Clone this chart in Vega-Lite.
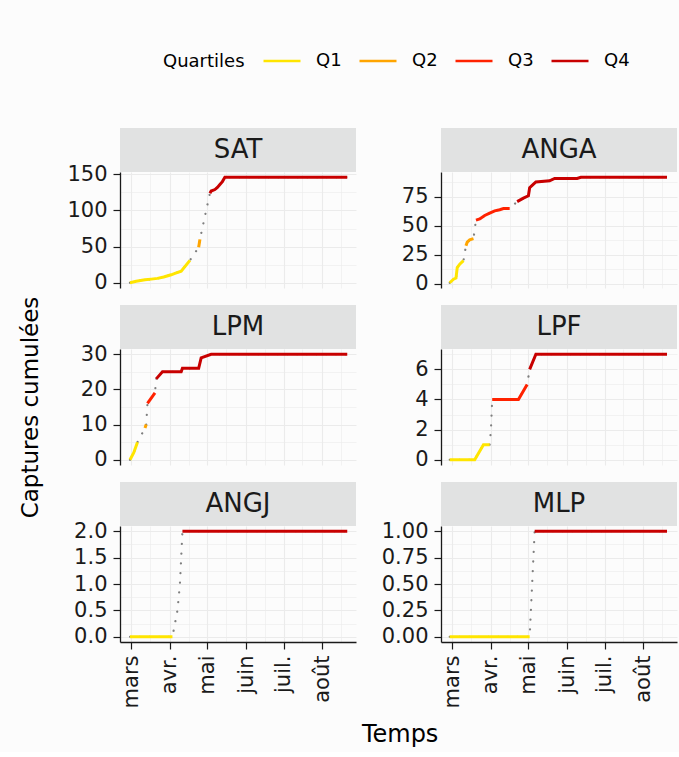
{
  "$schema": "https://vega.github.io/schema/vega-lite/v6.json",
  "background": "#fcfcfc",
  "padding": {"left": 19, "top": 41, "right": 2, "bottom": 5},
  "title": {"text": "Temps", "orient": "bottom", "anchor": "middle", "frame": "bounds", "dx": 52, "fontSize": 24, "font": "DejaVu Sans", "fontWeight": "normal", "color": "#000000", "offset": 15},
  "data": {"values": [
    {"site": "SAT", "date": "2021-02-28", "n": 0, "q": "Q1"},
    {"site": "SAT", "date": "2021-03-05", "n": 2, "q": "Q1"},
    {"site": "SAT", "date": "2021-03-12", "n": 4, "q": "Q1"},
    {"site": "SAT", "date": "2021-03-17", "n": 5, "q": "Q1"},
    {"site": "SAT", "date": "2021-03-22", "n": 6, "q": "Q1"},
    {"site": "SAT", "date": "2021-03-27", "n": 8, "q": "Q1"},
    {"site": "SAT", "date": "2021-04-02", "n": 11, "q": "Q1"},
    {"site": "SAT", "date": "2021-04-05", "n": 13, "q": "Q1"},
    {"site": "SAT", "date": "2021-04-10", "n": 16, "q": "Q1"},
    {"site": "SAT", "date": "2021-04-17", "n": 31, "q": "Q1"},
    {"site": "SAT", "date": "2021-04-24", "n": 49, "q": "Q2"},
    {"site": "SAT", "date": "2021-04-25", "n": 60, "q": "Q2"},
    {"site": "SAT", "date": "2021-04-29", "n": 92, "q": "Q3"},
    {"site": "SAT", "date": "2021-05-03", "n": 124, "q": "Q4"},
    {"site": "SAT", "date": "2021-05-04", "n": 127, "q": "Q4"},
    {"site": "SAT", "date": "2021-05-07", "n": 129, "q": "Q4"},
    {"site": "SAT", "date": "2021-05-09", "n": 132, "q": "Q4"},
    {"site": "SAT", "date": "2021-05-11", "n": 136, "q": "Q4"},
    {"site": "SAT", "date": "2021-05-13", "n": 140, "q": "Q4"},
    {"site": "SAT", "date": "2021-05-15", "n": 146, "q": "Q4"},
    {"site": "SAT", "date": "2021-08-21", "n": 146, "q": "Q4"},
    {"site": "ANGA", "date": "2021-02-27", "n": 1, "q": "Q1"},
    {"site": "ANGA", "date": "2021-03-02", "n": 4, "q": "Q1"},
    {"site": "ANGA", "date": "2021-03-04", "n": 5, "q": "Q1"},
    {"site": "ANGA", "date": "2021-03-05", "n": 14, "q": "Q1"},
    {"site": "ANGA", "date": "2021-03-07", "n": 17, "q": "Q1"},
    {"site": "ANGA", "date": "2021-03-10", "n": 20, "q": "Q1"},
    {"site": "ANGA", "date": "2021-03-12", "n": 33, "q": "Q2"},
    {"site": "ANGA", "date": "2021-03-13", "n": 36, "q": "Q2"},
    {"site": "ANGA", "date": "2021-03-15", "n": 38, "q": "Q2"},
    {"site": "ANGA", "date": "2021-03-18", "n": 39, "q": "Q2"},
    {"site": "ANGA", "date": "2021-03-20", "n": 55, "q": "Q3"},
    {"site": "ANGA", "date": "2021-03-23", "n": 56, "q": "Q3"},
    {"site": "ANGA", "date": "2021-03-27", "n": 59, "q": "Q3"},
    {"site": "ANGA", "date": "2021-03-31", "n": 61, "q": "Q3"},
    {"site": "ANGA", "date": "2021-04-04", "n": 63, "q": "Q3"},
    {"site": "ANGA", "date": "2021-04-08", "n": 64, "q": "Q3"},
    {"site": "ANGA", "date": "2021-04-11", "n": 65, "q": "Q3"},
    {"site": "ANGA", "date": "2021-04-16", "n": 65, "q": "Q3"},
    {"site": "ANGA", "date": "2021-04-22", "n": 71, "q": "Q4"},
    {"site": "ANGA", "date": "2021-04-27", "n": 74, "q": "Q4"},
    {"site": "ANGA", "date": "2021-05-01", "n": 76, "q": "Q4"},
    {"site": "ANGA", "date": "2021-05-02", "n": 83, "q": "Q4"},
    {"site": "ANGA", "date": "2021-05-04", "n": 85, "q": "Q4"},
    {"site": "ANGA", "date": "2021-05-07", "n": 88, "q": "Q4"},
    {"site": "ANGA", "date": "2021-05-18", "n": 89, "q": "Q4"},
    {"site": "ANGA", "date": "2021-05-22", "n": 91, "q": "Q4"},
    {"site": "ANGA", "date": "2021-06-09", "n": 91, "q": "Q4"},
    {"site": "ANGA", "date": "2021-06-12", "n": 92, "q": "Q4"},
    {"site": "ANGA", "date": "2021-08-20", "n": 92, "q": "Q4"},
    {"site": "LPM", "date": "2021-02-28", "n": 0, "q": "Q1"},
    {"site": "LPM", "date": "2021-03-03", "n": 2, "q": "Q1"},
    {"site": "LPM", "date": "2021-03-06", "n": 5, "q": "Q1"},
    {"site": "LPM", "date": "2021-03-12", "n": 9, "q": "Q2"},
    {"site": "LPM", "date": "2021-03-13", "n": 10, "q": "Q2"},
    {"site": "LPM", "date": "2021-03-14", "n": 16, "q": "Q3"},
    {"site": "LPM", "date": "2021-03-20", "n": 19, "q": "Q3"},
    {"site": "LPM", "date": "2021-03-21", "n": 23, "q": "Q4"},
    {"site": "LPM", "date": "2021-03-26", "n": 25, "q": "Q4"},
    {"site": "LPM", "date": "2021-04-10", "n": 25, "q": "Q4"},
    {"site": "LPM", "date": "2021-04-11", "n": 26, "q": "Q4"},
    {"site": "LPM", "date": "2021-04-24", "n": 26, "q": "Q4"},
    {"site": "LPM", "date": "2021-04-26", "n": 29, "q": "Q4"},
    {"site": "LPM", "date": "2021-05-04", "n": 30, "q": "Q4"},
    {"site": "LPM", "date": "2021-08-21", "n": 30, "q": "Q4"},
    {"site": "LPF", "date": "2021-02-27", "n": 0, "q": "Q1"},
    {"site": "LPF", "date": "2021-03-19", "n": 0, "q": "Q1"},
    {"site": "LPF", "date": "2021-03-26", "n": 1, "q": "Q1"},
    {"site": "LPF", "date": "2021-03-31", "n": 1, "q": "Q1"},
    {"site": "LPF", "date": "2021-04-01", "n": 2, "q": "Q2"},
    {"site": "LPF", "date": "2021-04-02", "n": 4, "q": "Q3"},
    {"site": "LPF", "date": "2021-04-23", "n": 4, "q": "Q3"},
    {"site": "LPF", "date": "2021-04-30", "n": 5, "q": "Q3"},
    {"site": "LPF", "date": "2021-05-02", "n": 6, "q": "Q4"},
    {"site": "LPF", "date": "2021-05-07", "n": 7, "q": "Q4"},
    {"site": "LPF", "date": "2021-08-20", "n": 7, "q": "Q4"},
    {"site": "ANGJ", "date": "2021-02-28", "n": 0, "q": "Q1"},
    {"site": "ANGJ", "date": "2021-04-03", "n": 0, "q": "Q1"},
    {"site": "ANGJ", "date": "2021-04-07", "n": 0.5, "q": "Q2"},
    {"site": "ANGJ", "date": "2021-04-09", "n": 1, "q": "Q3"},
    {"site": "ANGJ", "date": "2021-04-11", "n": 2, "q": "Q4"},
    {"site": "ANGJ", "date": "2021-08-21", "n": 2, "q": "Q4"},
    {"site": "MLP", "date": "2021-02-27", "n": 0, "q": "Q1"},
    {"site": "MLP", "date": "2021-05-02", "n": 0, "q": "Q1"},
    {"site": "MLP", "date": "2021-05-06", "n": 1, "q": "Q4"},
    {"site": "MLP", "date": "2021-08-20", "n": 1, "q": "Q4"}
  ]},
  "columns": 2,
  "spacing": {"row": 0, "column": 85},
  "bounds": "flush",
  "align": "each",
  "concat": [
    {"width": 236, "height": 44, "view": {"fill": "#e1e2e2", "stroke": null},
     "transform": [{"filter": "datum.site === 'SAT'"}, {"aggregate": [{"op": "count", "as": "k"}], "groupby": ["site"]}],
     "mark": {"type": "text", "fontSize": 26, "font": "DejaVu Sans", "color": "#1a1a1a"},
     "encoding": {"text": {"field": "site"}}},
    {"width": 236, "height": 44, "view": {"fill": "#e1e2e2", "stroke": null},
     "transform": [{"filter": "datum.site === 'ANGA'"}, {"aggregate": [{"op": "count", "as": "k"}], "groupby": ["site"]}],
     "mark": {"type": "text", "fontSize": 26, "font": "DejaVu Sans", "color": "#1a1a1a"},
     "encoding": {"text": {"field": "site"}}},
    {"width": 236, "height": 116,
     "transform": [{"filter": "datum.site === 'SAT'"}],
     "encoding": {
       "x": {"field": "date", "type": "temporal", "scale": {"type": "utc", "domain": [{"year": 2021, "month": 2, "date": 20, "utc": true}, {"year": 2021, "month": 8, "date": 28, "utc": true}]},
             "axis": {"labels": false, "ticks": false, "domain": false, "title": null, "grid": true,
                      "values": [{"year": 2021, "month": 3, "date": 1, "utc": true}, {"year": 2021, "month": 4, "date": 1, "utc": true}, {"year": 2021, "month": 5, "date": 1, "utc": true}, {"year": 2021, "month": 6, "date": 1, "utc": true}, {"year": 2021, "month": 7, "date": 1, "utc": true}, {"year": 2021, "month": 8, "date": 1, "utc": true}, {"year": 2021, "month": 3, "date": 16, "utc": true}, {"year": 2021, "month": 4, "date": 16, "utc": true}, {"year": 2021, "month": 5, "date": 16, "utc": true}, {"year": 2021, "month": 6, "date": 16, "utc": true}, {"year": 2021, "month": 7, "date": 16, "utc": true}, {"year": 2021, "month": 8, "date": 16, "utc": true}],
                      "gridWidth": {"condition": {"test": "utcdate(datum.value) !== 1", "value": 0.6}, "value": 1.1}}},
       "y": {"field": "n", "type": "quantitative", "scale": {"domain": [-7.3, 153.3], "nice": false, "zero": false},
             "axis": {"title": null, "format": "d", "values": [0, 25, 50, 75, 100, 125, 150],
                      "labelExpr": "indexof([25,75,125], datum.value) >= 0 ? '' : datum.label",
                      "tickOpacity": {"condition": {"test": "indexof([25,75,125], datum.value) >= 0", "value": 0}, "value": 1},
                      "gridWidth": {"condition": {"test": "indexof([25,75,125], datum.value) >= 0", "value": 0.6}, "value": 1.1}}}
     },
     "layer": [
       {"mark": {"type": "line", "color": "#7f7f7f", "strokeWidth": 2.2, "strokeDash": [0.1, 9.6], "strokeCap": "round"}, "encoding": {}},
       {"mark": {"type": "line", "strokeWidth": 3},
        "encoding": {"color": {"field": "q", "type": "nominal", "title": "Quartiles", "scale": {"domain": ["Q1", "Q2", "Q3", "Q4"], "range": ["#FFE500", "#FFA500", "#FF2200", "#C80000"]},
                               "legend": {"orient": "none", "legendX": 43, "legendY": -87, "direction": "horizontal", "titleOrient": "left", "titleAnchor": "middle", "titleBaseline": "line-top", "titleLineHeight": 11.4}}}}
     ]},
    {"width": 236, "height": 116,
     "transform": [{"filter": "datum.site === 'ANGA'"}],
     "encoding": {
       "x": {"field": "date", "type": "temporal", "scale": {"type": "utc", "domain": [{"year": 2021, "month": 2, "date": 20, "utc": true}, {"year": 2021, "month": 8, "date": 28, "utc": true}]},
             "axis": {"labels": false, "ticks": false, "domain": false, "title": null, "grid": true,
                      "values": [{"year": 2021, "month": 3, "date": 1, "utc": true}, {"year": 2021, "month": 4, "date": 1, "utc": true}, {"year": 2021, "month": 5, "date": 1, "utc": true}, {"year": 2021, "month": 6, "date": 1, "utc": true}, {"year": 2021, "month": 7, "date": 1, "utc": true}, {"year": 2021, "month": 8, "date": 1, "utc": true}, {"year": 2021, "month": 3, "date": 16, "utc": true}, {"year": 2021, "month": 4, "date": 16, "utc": true}, {"year": 2021, "month": 5, "date": 16, "utc": true}, {"year": 2021, "month": 6, "date": 16, "utc": true}, {"year": 2021, "month": 7, "date": 16, "utc": true}, {"year": 2021, "month": 8, "date": 16, "utc": true}],
                      "gridWidth": {"condition": {"test": "utcdate(datum.value) !== 1", "value": 0.6}, "value": 1.1}}},
       "y": {"field": "n", "type": "quantitative", "scale": {"domain": [-3.55, 96.55], "nice": false, "zero": false},
             "axis": {"title": null, "format": "d", "values": [0, 12.5, 25, 37.5, 50, 62.5, 75, 87.5],
                      "labelExpr": "indexof([12.5,37.5,62.5,87.5], datum.value) >= 0 ? '' : datum.label",
                      "tickOpacity": {"condition": {"test": "indexof([12.5,37.5,62.5,87.5], datum.value) >= 0", "value": 0}, "value": 1},
                      "gridWidth": {"condition": {"test": "indexof([12.5,37.5,62.5,87.5], datum.value) >= 0", "value": 0.6}, "value": 1.1}}}
     },
     "layer": [
       {"mark": {"type": "line", "color": "#7f7f7f", "strokeWidth": 2.2, "strokeDash": [0.1, 9.6], "strokeCap": "round"}, "encoding": {}},
       {"mark": {"type": "line", "strokeWidth": 3},
        "encoding": {"color": {"field": "q", "type": "nominal", "title": "Quartiles", "scale": {"domain": ["Q1", "Q2", "Q3", "Q4"], "range": ["#FFE500", "#FFA500", "#FF2200", "#C80000"]},
                               "legend": {"orient": "none", "legendX": 43, "legendY": -87, "direction": "horizontal", "titleOrient": "left", "titleAnchor": "middle", "titleBaseline": "line-top", "titleLineHeight": 11.4}}}}
     ]},
    {"width": 236, "height": 16.5, "mark": {"type": "point", "opacity": 0}, "transform": [{"filter": "false"}]},
    {"width": 236, "height": 16.5, "mark": {"type": "point", "opacity": 0}, "transform": [{"filter": "false"}]},
    {"width": 236, "height": 44, "view": {"fill": "#e1e2e2", "stroke": null},
     "transform": [{"filter": "datum.site === 'LPM'"}, {"aggregate": [{"op": "count", "as": "k"}], "groupby": ["site"]}],
     "mark": {"type": "text", "fontSize": 26, "font": "DejaVu Sans", "color": "#1a1a1a"},
     "encoding": {"text": {"field": "site"}}},
    {"width": 236, "height": 44, "view": {"fill": "#e1e2e2", "stroke": null},
     "transform": [{"filter": "datum.site === 'LPF'"}, {"aggregate": [{"op": "count", "as": "k"}], "groupby": ["site"]}],
     "mark": {"type": "text", "fontSize": 26, "font": "DejaVu Sans", "color": "#1a1a1a"},
     "encoding": {"text": {"field": "site"}}},
    {"width": 236, "height": 116,
     "transform": [{"filter": "datum.site === 'LPM'"}],
     "encoding": {
       "x": {"field": "date", "type": "temporal", "scale": {"type": "utc", "domain": [{"year": 2021, "month": 2, "date": 20, "utc": true}, {"year": 2021, "month": 8, "date": 28, "utc": true}]},
             "axis": {"labels": false, "ticks": false, "domain": false, "title": null, "grid": true,
                      "values": [{"year": 2021, "month": 3, "date": 1, "utc": true}, {"year": 2021, "month": 4, "date": 1, "utc": true}, {"year": 2021, "month": 5, "date": 1, "utc": true}, {"year": 2021, "month": 6, "date": 1, "utc": true}, {"year": 2021, "month": 7, "date": 1, "utc": true}, {"year": 2021, "month": 8, "date": 1, "utc": true}, {"year": 2021, "month": 3, "date": 16, "utc": true}, {"year": 2021, "month": 4, "date": 16, "utc": true}, {"year": 2021, "month": 5, "date": 16, "utc": true}, {"year": 2021, "month": 6, "date": 16, "utc": true}, {"year": 2021, "month": 7, "date": 16, "utc": true}, {"year": 2021, "month": 8, "date": 16, "utc": true}],
                      "gridWidth": {"condition": {"test": "utcdate(datum.value) !== 1", "value": 0.6}, "value": 1.1}}},
       "y": {"field": "n", "type": "quantitative", "scale": {"domain": [-1.5, 31.5], "nice": false, "zero": false},
             "axis": {"title": "Captures cumulées", "titlePadding": 38, "format": "d", "values": [0, 5, 10, 15, 20, 25, 30],
                      "labelExpr": "indexof([5,15,25], datum.value) >= 0 ? '' : datum.label",
                      "tickOpacity": {"condition": {"test": "indexof([5,15,25], datum.value) >= 0", "value": 0}, "value": 1},
                      "gridWidth": {"condition": {"test": "indexof([5,15,25], datum.value) >= 0", "value": 0.6}, "value": 1.1}}}
     },
     "layer": [
       {"mark": {"type": "line", "color": "#7f7f7f", "strokeWidth": 2.2, "strokeDash": [0.1, 9.6], "strokeCap": "round"}, "encoding": {}},
       {"mark": {"type": "line", "strokeWidth": 3},
        "encoding": {"color": {"field": "q", "type": "nominal", "title": "Quartiles", "scale": {"domain": ["Q1", "Q2", "Q3", "Q4"], "range": ["#FFE500", "#FFA500", "#FF2200", "#C80000"]},
                               "legend": {"orient": "none", "legendX": 43, "legendY": -87, "direction": "horizontal", "titleOrient": "left", "titleAnchor": "middle", "titleBaseline": "line-top", "titleLineHeight": 11.4}}}}
     ]},
    {"width": 236, "height": 116,
     "transform": [{"filter": "datum.site === 'LPF'"}],
     "encoding": {
       "x": {"field": "date", "type": "temporal", "scale": {"type": "utc", "domain": [{"year": 2021, "month": 2, "date": 20, "utc": true}, {"year": 2021, "month": 8, "date": 28, "utc": true}]},
             "axis": {"labels": false, "ticks": false, "domain": false, "title": null, "grid": true,
                      "values": [{"year": 2021, "month": 3, "date": 1, "utc": true}, {"year": 2021, "month": 4, "date": 1, "utc": true}, {"year": 2021, "month": 5, "date": 1, "utc": true}, {"year": 2021, "month": 6, "date": 1, "utc": true}, {"year": 2021, "month": 7, "date": 1, "utc": true}, {"year": 2021, "month": 8, "date": 1, "utc": true}, {"year": 2021, "month": 3, "date": 16, "utc": true}, {"year": 2021, "month": 4, "date": 16, "utc": true}, {"year": 2021, "month": 5, "date": 16, "utc": true}, {"year": 2021, "month": 6, "date": 16, "utc": true}, {"year": 2021, "month": 7, "date": 16, "utc": true}, {"year": 2021, "month": 8, "date": 16, "utc": true}],
                      "gridWidth": {"condition": {"test": "utcdate(datum.value) !== 1", "value": 0.6}, "value": 1.1}}},
       "y": {"field": "n", "type": "quantitative", "scale": {"domain": [-0.35, 7.35], "nice": false, "zero": false},
             "axis": {"title": null, "format": "d", "values": [0, 1, 2, 3, 4, 5, 6, 7],
                      "labelExpr": "indexof([1,3,5,7], datum.value) >= 0 ? '' : datum.label",
                      "tickOpacity": {"condition": {"test": "indexof([1,3,5,7], datum.value) >= 0", "value": 0}, "value": 1},
                      "gridWidth": {"condition": {"test": "indexof([1,3,5,7], datum.value) >= 0", "value": 0.6}, "value": 1.1}}}
     },
     "layer": [
       {"mark": {"type": "line", "color": "#7f7f7f", "strokeWidth": 2.2, "strokeDash": [0.1, 9.6], "strokeCap": "round"}, "encoding": {}},
       {"mark": {"type": "line", "strokeWidth": 3},
        "encoding": {"color": {"field": "q", "type": "nominal", "title": "Quartiles", "scale": {"domain": ["Q1", "Q2", "Q3", "Q4"], "range": ["#FFE500", "#FFA500", "#FF2200", "#C80000"]},
                               "legend": {"orient": "none", "legendX": 43, "legendY": -87, "direction": "horizontal", "titleOrient": "left", "titleAnchor": "middle", "titleBaseline": "line-top", "titleLineHeight": 11.4}}}}
     ]},
    {"width": 236, "height": 16.5, "mark": {"type": "point", "opacity": 0}, "transform": [{"filter": "false"}]},
    {"width": 236, "height": 16.5, "mark": {"type": "point", "opacity": 0}, "transform": [{"filter": "false"}]},
    {"width": 236, "height": 44, "view": {"fill": "#e1e2e2", "stroke": null},
     "transform": [{"filter": "datum.site === 'ANGJ'"}, {"aggregate": [{"op": "count", "as": "k"}], "groupby": ["site"]}],
     "mark": {"type": "text", "fontSize": 26, "font": "DejaVu Sans", "color": "#1a1a1a"},
     "encoding": {"text": {"field": "site"}}},
    {"width": 236, "height": 44, "view": {"fill": "#e1e2e2", "stroke": null},
     "transform": [{"filter": "datum.site === 'MLP'"}, {"aggregate": [{"op": "count", "as": "k"}], "groupby": ["site"]}],
     "mark": {"type": "text", "fontSize": 26, "font": "DejaVu Sans", "color": "#1a1a1a"},
     "encoding": {"text": {"field": "site"}}},
    {"width": 236, "height": 116,
     "transform": [{"filter": "datum.site === 'ANGJ'"}],
     "encoding": {
       "x": {"field": "date", "type": "temporal", "scale": {"type": "utc", "domain": [{"year": 2021, "month": 2, "date": 20, "utc": true}, {"year": 2021, "month": 8, "date": 28, "utc": true}]},
             "axis": {"title": null, "grid": true, "labelAngle": 270,
                      "values": [{"year": 2021, "month": 3, "date": 1, "utc": true}, {"year": 2021, "month": 4, "date": 1, "utc": true}, {"year": 2021, "month": 5, "date": 1, "utc": true}, {"year": 2021, "month": 6, "date": 1, "utc": true}, {"year": 2021, "month": 7, "date": 1, "utc": true}, {"year": 2021, "month": 8, "date": 1, "utc": true}, {"year": 2021, "month": 3, "date": 16, "utc": true}, {"year": 2021, "month": 4, "date": 16, "utc": true}, {"year": 2021, "month": 5, "date": 16, "utc": true}, {"year": 2021, "month": 6, "date": 16, "utc": true}, {"year": 2021, "month": 7, "date": 16, "utc": true}, {"year": 2021, "month": 8, "date": 16, "utc": true}],
                      "labelExpr": "utcdate(datum.value) === 1 ? ['janv.','févr.','mars','avr.','mai','juin','juil.','août','sept.','oct.','nov.','déc.'][utcmonth(datum.value)] : ''",
                      "tickOpacity": {"condition": {"test": "utcdate(datum.value) !== 1", "value": 0}, "value": 1},
                      "gridWidth": {"condition": {"test": "utcdate(datum.value) !== 1", "value": 0.6}, "value": 1.1}}},
       "y": {"field": "n", "type": "quantitative", "scale": {"domain": [-0.1, 2.1], "nice": false, "zero": false},
             "axis": {"title": null, "format": ".1f", "values": [0, 0.25, 0.5, 0.75, 1, 1.25, 1.5, 1.75, 2],
                      "labelExpr": "indexof([0.25,0.75,1.25,1.75], datum.value) >= 0 ? '' : datum.label",
                      "tickOpacity": {"condition": {"test": "indexof([0.25,0.75,1.25,1.75], datum.value) >= 0", "value": 0}, "value": 1},
                      "gridWidth": {"condition": {"test": "indexof([0.25,0.75,1.25,1.75], datum.value) >= 0", "value": 0.6}, "value": 1.1}}}
     },
     "layer": [
       {"mark": {"type": "line", "color": "#7f7f7f", "strokeWidth": 2.2, "strokeDash": [0.1, 9.6], "strokeCap": "round"}, "encoding": {}},
       {"mark": {"type": "line", "strokeWidth": 3},
        "encoding": {"color": {"field": "q", "type": "nominal", "title": "Quartiles", "scale": {"domain": ["Q1", "Q2", "Q3", "Q4"], "range": ["#FFE500", "#FFA500", "#FF2200", "#C80000"]},
                               "legend": {"orient": "none", "legendX": 43, "legendY": -87, "direction": "horizontal", "titleOrient": "left", "titleAnchor": "middle", "titleBaseline": "line-top", "titleLineHeight": 11.4}}}}
     ]},
    {"width": 236, "height": 116,
     "transform": [{"filter": "datum.site === 'MLP'"}],
     "encoding": {
       "x": {"field": "date", "type": "temporal", "scale": {"type": "utc", "domain": [{"year": 2021, "month": 2, "date": 20, "utc": true}, {"year": 2021, "month": 8, "date": 28, "utc": true}]},
             "axis": {"title": null, "grid": true, "labelAngle": 270,
                      "values": [{"year": 2021, "month": 3, "date": 1, "utc": true}, {"year": 2021, "month": 4, "date": 1, "utc": true}, {"year": 2021, "month": 5, "date": 1, "utc": true}, {"year": 2021, "month": 6, "date": 1, "utc": true}, {"year": 2021, "month": 7, "date": 1, "utc": true}, {"year": 2021, "month": 8, "date": 1, "utc": true}, {"year": 2021, "month": 3, "date": 16, "utc": true}, {"year": 2021, "month": 4, "date": 16, "utc": true}, {"year": 2021, "month": 5, "date": 16, "utc": true}, {"year": 2021, "month": 6, "date": 16, "utc": true}, {"year": 2021, "month": 7, "date": 16, "utc": true}, {"year": 2021, "month": 8, "date": 16, "utc": true}],
                      "labelExpr": "utcdate(datum.value) === 1 ? ['janv.','févr.','mars','avr.','mai','juin','juil.','août','sept.','oct.','nov.','déc.'][utcmonth(datum.value)] : ''",
                      "tickOpacity": {"condition": {"test": "utcdate(datum.value) !== 1", "value": 0}, "value": 1},
                      "gridWidth": {"condition": {"test": "utcdate(datum.value) !== 1", "value": 0.6}, "value": 1.1}}},
       "y": {"field": "n", "type": "quantitative", "scale": {"domain": [-0.05, 1.05], "nice": false, "zero": false},
             "axis": {"title": null, "format": ".2f", "values": [0, 0.125, 0.25, 0.375, 0.5, 0.625, 0.75, 0.875, 1],
                      "labelExpr": "indexof([0.125,0.375,0.625,0.875], datum.value) >= 0 ? '' : datum.label",
                      "tickOpacity": {"condition": {"test": "indexof([0.125,0.375,0.625,0.875], datum.value) >= 0", "value": 0}, "value": 1},
                      "gridWidth": {"condition": {"test": "indexof([0.125,0.375,0.625,0.875], datum.value) >= 0", "value": 0.6}, "value": 1.1}}}
     },
     "layer": [
       {"mark": {"type": "line", "color": "#7f7f7f", "strokeWidth": 2.2, "strokeDash": [0.1, 9.6], "strokeCap": "round"}, "encoding": {}},
       {"mark": {"type": "line", "strokeWidth": 3},
        "encoding": {"color": {"field": "q", "type": "nominal", "title": "Quartiles", "scale": {"domain": ["Q1", "Q2", "Q3", "Q4"], "range": ["#FFE500", "#FFA500", "#FF2200", "#C80000"]},
                               "legend": {"orient": "none", "legendX": 43, "legendY": -87, "direction": "horizontal", "titleOrient": "left", "titleAnchor": "middle", "titleBaseline": "line-top", "titleLineHeight": 11.4}}}}
     ]}
  ],
  "config": {
    "font": "DejaVu Sans",
    "view": {"stroke": null},
    "axis": {"labelFont": "DejaVu Sans", "labelFontSize": 21, "labelColor": "#1a1a1a", "tickColor": "#1a1a1a", "tickSize": 7, "tickWidth": 1.2, "domainColor": "#1a1a1a", "domainWidth": 1.3, "labelPadding": 6, "grid": true, "gridColor": "#ebebeb", "labelOverlap": false, "labelFlush": false, "titleFont": "DejaVu Sans", "titleFontSize": 23, "titleFontWeight": "normal", "titleColor": "#000000"},
    "legend": {"titleFont": "DejaVu Sans", "titleFontSize": 18, "titleFontWeight": "normal", "titleColor": "#000000", "labelFont": "DejaVu Sans", "labelFontSize": 18, "labelColor": "#000000", "symbolType": "stroke", "symbolSize": 1369, "symbolStrokeWidth": 2.5, "labelOffset": 14, "columnPadding": 12, "titlePadding": 17, "padding": 0}
  }
}
